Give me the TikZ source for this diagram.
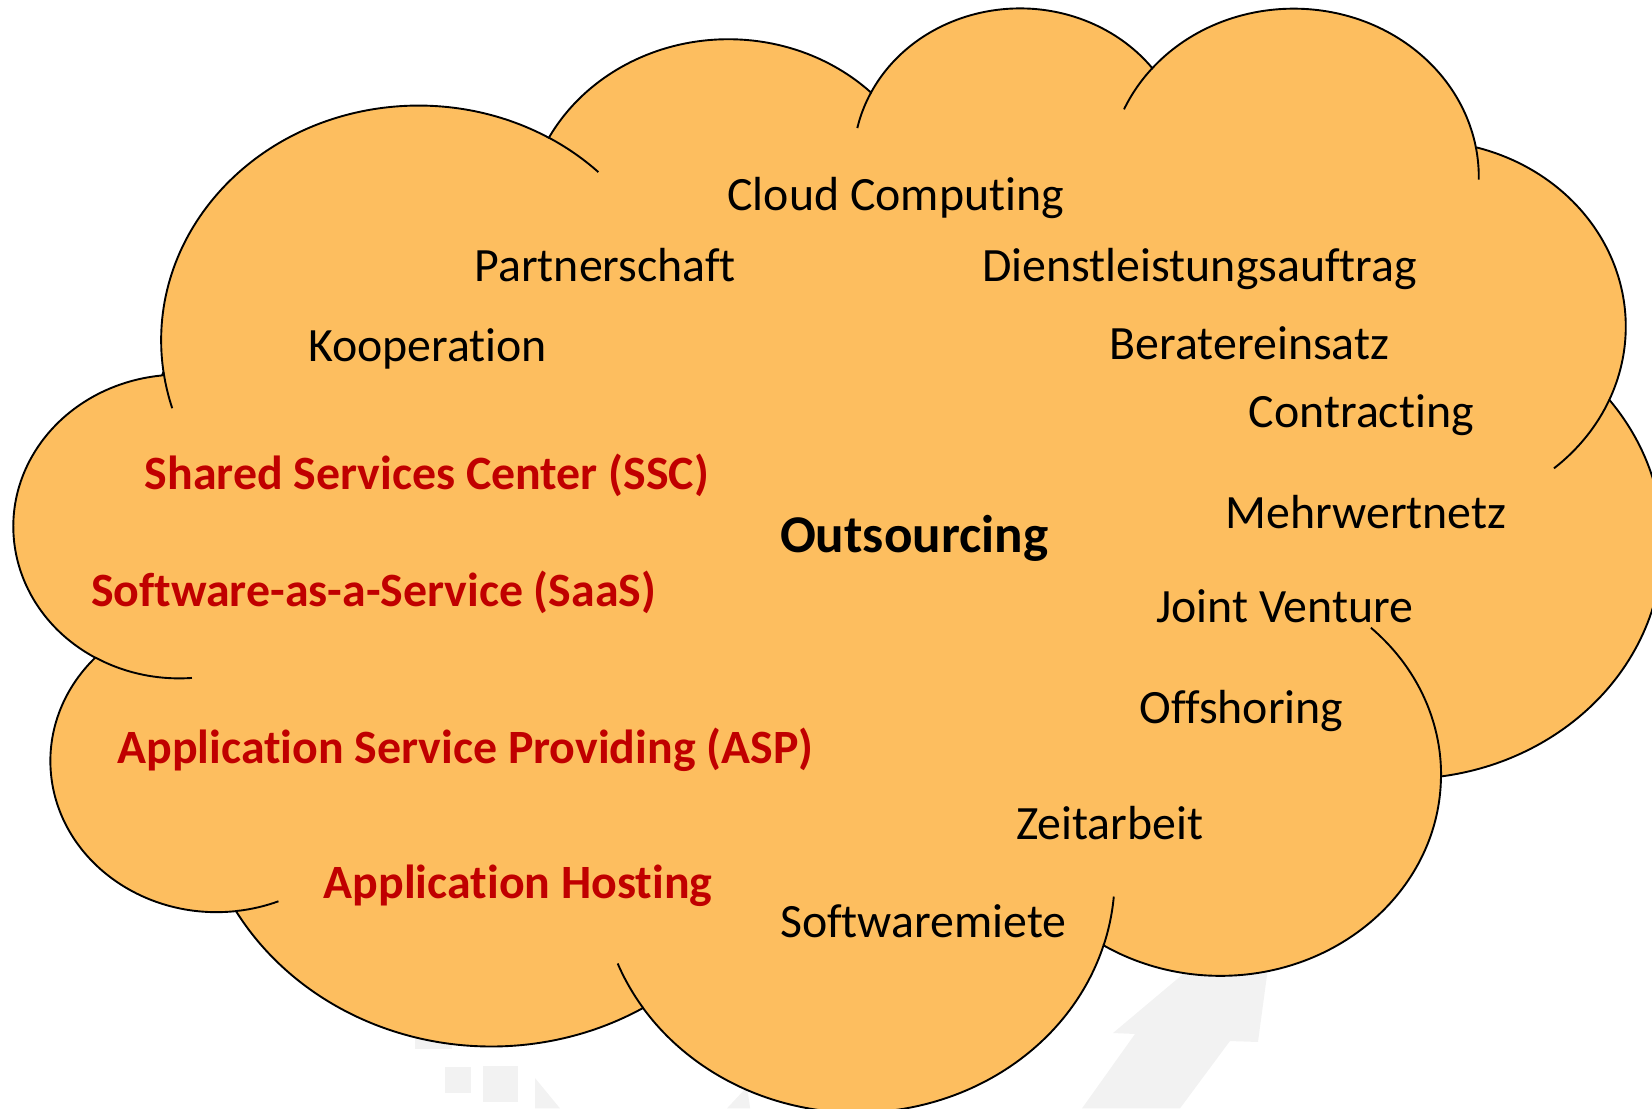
\documentclass[tikz,border=0pt]{standalone}
\usepackage{fontspec}
\setmainfont{Carlito}[Ligatures={NoCommon}]
\definecolor{cloudfill}{RGB}{253,190,95}
\definecolor{darkred}{RGB}{192,0,0}
\definecolor{wmgrey}{RGB}{242,242,242}
\begin{document}
\begin{tikzpicture}[x=0.5pt,y=-0.5pt,
  lbl/.style={anchor=base west, inner sep=0pt, font=\fontsize{22.7}{26}\selectfont, text=black},
  redlbl/.style={anchor=base west, inner sep=0pt, font=\fontsize{22.7}{26}\selectfont\bfseries, text=darkred},
  mainlbl/.style={anchor=base west, inner sep=0pt, font=\fontsize{25.2}{30}\selectfont\bfseries, text=black},
  cloudline/.style={line width=0.9pt, draw=black},
  wm/.style={fill=wmgrey, draw=none}]
\useasboundingbox (0,0) rectangle (1568,1052);
% faint watermark shapes behind the cloud
\fill[wm] (393.9,960) rectangle (429,995.6);
\fill[wm] (422.4,1012.7) rectangle (447,1037.4);
\fill[wm] (458.4,1011.8) rectangle (491.7,1046);
\fill[wm] (507.8,1023.2) -- (531.5,1052) -- (507.8,1052) -- cycle;
\fill[wm] (709,1031.7) -- (712,1052) -- (690,1052) -- cycle;
\fill[wm] (1056.4,980.5) -- (1121.9,925.4) -- (1150,895) -- (1206,895) -- (1202.6,925.4)
  -- (1194,989) -- (1167.4,988.1) -- (1120,1052) -- (1027,1052) -- (1077.3,981.4) -- cycle;
% lobe centres
\coordinate (cA) at (397.4,323.0);
\coordinate (cC) at (968.1,152.2);
\coordinate (cD) at (1227.8,168.1);
\coordinate (cE) at (1350.1,310.0);
\coordinate (cG) at (1158.4,735.4);
\coordinate (cH) at (813.6,832.5);
\coordinate (cJ) at (205.8,722.2);
\coordinate (cK) at (170.0,499.7);
\coordinate (start) at (155.2,353.1);
% cloud outline
\path[fill=cloudfill, cloudline] (start)
  arc[start angle=172.26, end angle=300.37, x radius=244.4, y radius=222.9]
  arc[start angle=-152.02, end angle=-45.46, x radius=193.0, y radius=176.2]
  arc[start angle=-153.50, end angle=-37.35, x radius=158.0, y radius=144.2]
  arc[start angle=-139.71, end angle=-10.21, x radius=175.8, y radius=159.9]
  arc[start angle=-74.77, end angle=23.21, x radius=193.0, y radius=176.4]
  arc[start angle=-37.51, end angle=81.86, x radius=245.2, y radius=223.6]
  arc[start angle=0.46, end angle=121.98, x radius=209.4, y radius=190.8]
  arc[start angle=16.84, end angle=146.24, x radius=244.4, y radius=223.5]
  arc[start angle=58.98, end angle=150.17, x radius=279.4, y radius=255.7]
  arc[start angle=83.31, end angle=223.10, x radius=157.8, y radius=143.5]
  arc[start angle=120.36, end angle=264.10, x radius=157.2, y radius=144.2]
  -- cycle;
% inner strokes
\draw[cloudline] ([shift={(85.55:157.2 and 144.2)}]cK) arc[start angle=85.55, end angle=120.36, x radius=157.2, y radius=144.2];
\draw[cloudline] ([shift={(68.23:157.8 and 143.5)}]cJ) arc[start angle=68.23, end angle=83.31, x radius=157.8, y radius=143.5];
\draw[cloudline] ([shift={(146.24:244.4 and 223.5)}]cH) arc[start angle=146.24, end angle=158.48, x radius=244.4, y radius=223.5];
\draw[cloudline] ([shift={(4.74:244.4 and 223.5)}]cH) arc[start angle=4.74, end angle=16.84, x radius=244.4, y radius=223.5];
\draw[cloudline] ([shift={(-47:209.4 and 190.8)}]cG) arc[start angle=-47, end angle=0.46, x radius=209.4, y radius=190.8];
\draw[cloudline] ([shift={(23.21:193.0 and 176.4)}]cE) arc[start angle=23.21, end angle=49.69, x radius=193.0, y radius=176.4];
\draw[cloudline] ([shift={(-10.21:175.8 and 159.9)}]cD) arc[start angle=-10.21, end angle=0.82, x radius=175.8, y radius=159.9];
\draw[cloudline] ([shift={(-156.29:175.8 and 159.9)}]cD) arc[start angle=-156.29, end angle=-139.71, x radius=175.8, y radius=159.9];
\draw[cloudline] ([shift={(-167.73:158.0 and 144.2)}]cC) arc[start angle=-167.73, end angle=-153.50, x radius=158.0, y radius=144.2];
\draw[cloudline] ([shift={(-59.63:244.4 and 222.9)}]cA) arc[start angle=-59.63, end angle=-45.75, x radius=244.4, y radius=222.9];
\draw[cloudline] ([shift={(163.19:244.4 and 222.9)}]cA) arc[start angle=163.19, end angle=172.26, x radius=244.4, y radius=222.9];
% labels
\node[lbl] (cloud) at (690,200) {Cloud Computing};
\node[lbl] (partner) at (450,267) {Partnerschaft};
\node[lbl] (dienst) at (932,267) {Dienstleistungsauftrag};
\node[lbl] (koop) at (292,343) {Kooperation};
\node[lbl] (berater) at (1053,341) {Beratereinsatz};
\node[lbl] (contract) at (1185,406) {Contracting};
\node[redlbl] (ssc) at (137,465) {Shared Services Center (SSC)};
\node[mainlbl] (outs) at (740,524) {Outsourcing};
\node[lbl] (mehr) at (1163,502) {Mehrwertnetz};
\node[redlbl] (saas) at (86,576) {Software-as-a-Service (SaaS)};
\node[lbl] (joint) at (1097,591) {Joint Venture};
\node[lbl] (offsh) at (1081,687) {Offshoring};
\node[redlbl] (asp) at (111,725) {Application Service Providing (ASP)};
\node[lbl] (zeit) at (964,797) {Zeitarbeit};
\node[redlbl] (hosting) at (307,853) {Application Hosting};
\node[lbl] (miete) at (740,890) {Softwaremiete};
\end{tikzpicture}
\end{document}
